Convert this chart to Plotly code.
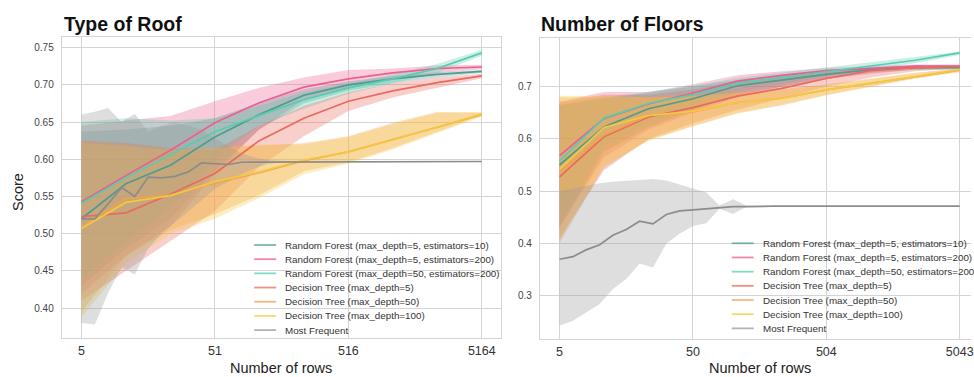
import plotly.graph_objects as go

# ---------------- data ----------------
FRAC_MODEL = [0.001, 0.00215, 0.00464, 0.01, 0.0215, 0.0464, 0.1, 0.215, 0.464, 1.0]
FRAC_FINE = [0.001, 0.00126, 0.00158, 0.002, 0.00251, 0.00316, 0.00398, 0.00501, 0.00631, 0.00794,
             0.01, 0.0126, 0.0158, 0.02, 0.0251, 0.0316, 0.0398, 0.0501, 0.0631, 0.0794,
             0.1, 0.126, 0.158, 0.2, 0.251, 0.316, 0.398, 0.501, 0.631, 0.794, 1.0]

SERIES = ["Random Forest (max_depth=5, estimators=10)",
          "Random Forest (max_depth=5, estimators=200)",
          "Random Forest (max_depth=50, estimators=200)",
          "Decision Tree (max_depth=5)",
          "Decision Tree (max_depth=50)",
          "Decision Tree (max_depth=100)",
          "Most Frequent"]

# Type of Roof (5164 rows)
ROOF_TICKS = ["5", "51", "516", "5164"]
ROOF_MEAN = [
    [0.520, 0.567, 0.592, 0.630, 0.660, 0.686, 0.700, 0.708, 0.714, 0.718],
    [0.543, 0.578, 0.612, 0.649, 0.676, 0.697, 0.708, 0.716, 0.722, 0.724],
    [0.541, 0.575, 0.606, 0.637, 0.659, 0.680, 0.696, 0.708, 0.722, 0.743],
    [0.523, 0.528, 0.553, 0.581, 0.625, 0.655, 0.678, 0.692, 0.703, 0.712],
    [0.509, 0.547, 0.552, 0.568, 0.582, 0.598, 0.610, 0.626, 0.643, 0.660],
    [0.507, 0.542, 0.551, 0.570, 0.583, 0.599, 0.610, 0.626, 0.643, 0.661],
]
ROOF_UP = [
    [0.637, 0.640, 0.645, 0.655, 0.676, 0.694, 0.705, 0.712, 0.717, 0.720],
    [0.645, 0.652, 0.658, 0.678, 0.696, 0.710, 0.720, 0.722, 0.726, 0.727],
    [0.650, 0.655, 0.652, 0.655, 0.672, 0.690, 0.702, 0.714, 0.728, 0.747],
    [0.625, 0.622, 0.615, 0.612, 0.645, 0.672, 0.690, 0.702, 0.710, 0.715],
    [0.627, 0.620, 0.615, 0.617, 0.618, 0.622, 0.631, 0.649, 0.664, 0.662],
    [0.622, 0.618, 0.612, 0.615, 0.620, 0.620, 0.630, 0.647, 0.662, 0.664],
]
ROOF_LO = [
    [0.430, 0.480, 0.520, 0.585, 0.640, 0.675, 0.692, 0.702, 0.710, 0.716],
    [0.420, 0.470, 0.510, 0.580, 0.640, 0.680, 0.695, 0.708, 0.716, 0.721],
    [0.440, 0.490, 0.535, 0.600, 0.645, 0.668, 0.688, 0.702, 0.716, 0.739],
    [0.410, 0.450, 0.490, 0.530, 0.590, 0.631, 0.665, 0.683, 0.696, 0.709],
    [0.395, 0.470, 0.505, 0.526, 0.552, 0.584, 0.596, 0.615, 0.637, 0.659],
    [0.388, 0.460, 0.500, 0.520, 0.548, 0.580, 0.594, 0.613, 0.635, 0.657],
]
ROOF_MF = [0.520, 0.520, 0.540, 0.562, 0.550, 0.576, 0.575, 0.577, 0.583, 0.595,
           0.594, 0.593, 0.596, 0.596, 0.597, 0.597, 0.597, 0.597, 0.597, 0.597,
           0.597, 0.597, 0.597, 0.597, 0.597, 0.597, 0.597, 0.597, 0.597, 0.597, 0.597]
ROOF_MF_UP = [0.660, 0.664, 0.669, 0.650, 0.661, 0.637, 0.645, 0.650, 0.645, 0.640,
              0.628, 0.618, 0.608, 0.602, 0.599, 0.598, 0.597, 0.597, 0.597, 0.597,
              0.597, 0.597, 0.597, 0.597, 0.597, 0.597, 0.597, 0.597, 0.597, 0.597, 0.597]
ROOF_MF_LO = [0.380, 0.378, 0.420, 0.455, 0.445, 0.480, 0.500, 0.515, 0.530, 0.545,
              0.560, 0.570, 0.580, 0.588, 0.594, 0.596, 0.597, 0.597, 0.597, 0.597,
              0.597, 0.597, 0.597, 0.597, 0.597, 0.597, 0.597, 0.597, 0.597, 0.597, 0.597]

# Number of Floors (5043 rows)
FLOOR_TICKS = ["5", "50", "504", "5043"]
FLOOR_MEAN = [
    [0.550, 0.623, 0.658, 0.677, 0.702, 0.713, 0.724, 0.733, 0.737, 0.737],
    [0.568, 0.639, 0.667, 0.688, 0.711, 0.722, 0.731, 0.736, 0.740, 0.740],
    [0.558, 0.640, 0.668, 0.685, 0.707, 0.718, 0.729, 0.740, 0.751, 0.765],
    [0.527, 0.604, 0.642, 0.660, 0.682, 0.697, 0.716, 0.731, 0.737, 0.739],
    [0.537, 0.607, 0.645, 0.652, 0.670, 0.678, 0.694, 0.706, 0.719, 0.732],
    [0.542, 0.622, 0.645, 0.653, 0.670, 0.678, 0.694, 0.706, 0.719, 0.733],
]
FLOOR_UP = [
    [0.665, 0.677, 0.688, 0.700, 0.713, 0.722, 0.730, 0.737, 0.741, 0.740],
    [0.672, 0.690, 0.690, 0.705, 0.722, 0.730, 0.736, 0.740, 0.743, 0.743],
    [0.665, 0.680, 0.690, 0.702, 0.717, 0.727, 0.736, 0.746, 0.757, 0.768],
    [0.670, 0.685, 0.685, 0.695, 0.710, 0.718, 0.728, 0.736, 0.741, 0.742],
    [0.680, 0.680, 0.680, 0.684, 0.690, 0.696, 0.705, 0.716, 0.727, 0.735],
    [0.683, 0.683, 0.680, 0.682, 0.688, 0.694, 0.703, 0.714, 0.726, 0.735],
]
FLOOR_LO = [
    [0.430, 0.575, 0.622, 0.655, 0.685, 0.700, 0.715, 0.727, 0.733, 0.733],
    [0.430, 0.565, 0.618, 0.650, 0.680, 0.700, 0.715, 0.725, 0.733, 0.736],
    [0.440, 0.585, 0.630, 0.660, 0.690, 0.705, 0.720, 0.732, 0.745, 0.761],
    [0.410, 0.540, 0.600, 0.630, 0.656, 0.678, 0.700, 0.718, 0.730, 0.735],
    [0.400, 0.545, 0.598, 0.624, 0.649, 0.664, 0.684, 0.700, 0.716, 0.728],
    [0.405, 0.550, 0.596, 0.626, 0.650, 0.666, 0.685, 0.701, 0.717, 0.729],
]
FLOOR_MF = [0.369, 0.374, 0.387, 0.397, 0.415, 0.426, 0.442, 0.437, 0.455, 0.462,
            0.464, 0.466, 0.469, 0.470, 0.470, 0.471, 0.471, 0.471, 0.471, 0.471,
            0.471, 0.471, 0.471, 0.471, 0.471, 0.471, 0.471, 0.471, 0.471, 0.471, 0.471]
FLOOR_MF_UP = [0.500, 0.505, 0.510, 0.515, 0.518, 0.520, 0.522, 0.523, 0.520, 0.512,
               0.505, 0.497, 0.472, 0.484, 0.472, 0.471, 0.471, 0.471, 0.471, 0.471,
               0.471, 0.471, 0.471, 0.471, 0.471, 0.471, 0.471, 0.471, 0.471, 0.471, 0.471]
FLOOR_MF_LO = [0.242, 0.251, 0.267, 0.283, 0.312, 0.331, 0.361, 0.353, 0.399, 0.418,
               0.433, 0.438, 0.466, 0.456, 0.470, 0.471, 0.471, 0.471, 0.471, 0.471,
               0.471, 0.471, 0.471, 0.471, 0.471, 0.471, 0.471, 0.471, 0.471, 0.471, 0.471]

COLORS = [(79, 156, 145), (236, 95, 142), (88, 204, 176), (234, 106, 94),
          (240, 162, 78), (245, 200, 65), (153, 153, 153)]

# ---------------- figure ----------------
W, H = 974, 377
FONT = "Liberation Sans, Arial, sans-serif"


def X(px):
    return px / W


def Y(py):
    return 1 - py / H


def rgba(c, a):
    return "rgba(%d,%d,%d,%.3f)" % (c[0], c[1], c[2], a)


fig = go.Figure()


def add_panel(xa, ya, means, ups, los, mf, mf_up, mf_lo):
    # bands first
    bands = [(FRAC_MODEL, ups[i], los[i], COLORS[i]) for i in range(6)]
    bands.append((FRAC_FINE, mf_up, mf_lo, COLORS[6]))
    for xs, up, lo, c in bands:
        fig.add_trace(go.Scatter(
            x=list(xs) + list(xs)[::-1], y=list(up) + list(lo)[::-1],
            fill="toself", fillcolor=rgba(c, 0.32), line=dict(width=0),
            mode="lines", hoverinfo="skip", showlegend=False, xaxis=xa, yaxis=ya))
    for i in range(6):
        fig.add_trace(go.Scatter(
            x=FRAC_MODEL, y=means[i], mode="lines", name=SERIES[i],
            line=dict(color=rgba(COLORS[i], 1), width=1.7),
            showlegend=False, xaxis=xa, yaxis=ya))
    fig.add_trace(go.Scatter(
        x=FRAC_FINE, y=mf, mode="lines", name=SERIES[6],
        line=dict(color=rgba((140, 140, 140), 1), width=1.7),
        showlegend=False, xaxis=xa, yaxis=ya))


add_panel("x", "y", ROOF_MEAN, ROOF_UP, ROOF_LO, ROOF_MF, ROOF_MF_UP, ROOF_MF_LO)
add_panel("x2", "y2", FLOOR_MEAN, FLOOR_UP, FLOOR_LO, FLOOR_MF, FLOOR_MF_UP, FLOOR_MF_LO)

GRID = "#d4d4d4"
axis_common = dict(showgrid=True, gridcolor=GRID, gridwidth=1, showline=True,
                   linecolor=GRID, linewidth=1.2, zeroline=False, ticks="")

fig.update_layout(
    width=W, height=H, margin=dict(l=0, r=0, t=0, b=0),
    paper_bgcolor="white", plot_bgcolor="white",
    font=dict(family=FONT, color="#333333"),
    showlegend=False,
    xaxis=dict(domain=[X(62), X(503)], type="log", range=[-3.1473, 0.1473],
               tickvals=[0.001, 0.01, 0.1, 1.0], ticktext=ROOF_TICKS,
               tickfont=dict(size=12.5, color="#333333"), mirror=True,
               ticklabelstandoff=1, anchor="y", **axis_common),
    yaxis=dict(domain=[Y(338), Y(37)], range=[0.3598, 0.7643],
               tickvals=[0.40, 0.45, 0.50, 0.55, 0.60, 0.65, 0.70, 0.75], tickformat=".2f",
               tickfont=dict(size=10, color="#444444"), mirror=True,
               ticklabelstandoff=5, anchor="x", **axis_common),
    xaxis2=dict(domain=[X(541.7), 1.0], type="log", range=[-3.1465, 0.0845],
                tickvals=[0.001, 0.01, 0.1, 1.0], ticktext=FLOOR_TICKS,
                tickfont=dict(size=12.5, color="#333333"), mirror=True,
                ticklabeloverflow="allow",
                ticklabelstandoff=1, anchor="y2", **axis_common),
    yaxis2=dict(domain=[Y(339), Y(38)], range=[0.216, 0.7937],
                tickvals=[0.3, 0.4, 0.5, 0.6, 0.7], tickformat=".1f",
                tickfont=dict(size=10, color="#444444"), mirror=False,
                ticklabelstandoff=5, anchor="x2", **axis_common),
)

ann = []
# titles
ann.append(dict(text="<b>Type of Roof</b>", x=X(62), y=Y(24), xanchor="left", yanchor="middle",
                font=dict(size=19.5, color="#111111", family=FONT)))
ann.append(dict(text="<b>Number of Floors</b>", x=X(541), y=Y(24), xanchor="left", yanchor="middle",
                font=dict(size=19.5, color="#111111", family=FONT)))
# axis titles
ann.append(dict(text="Score", x=X(18), y=Y(192), textangle=-90, xanchor="center", yanchor="middle",
                font=dict(size=14.5, color="#222222", family=FONT)))
ann.append(dict(text="Number of rows", x=X(282), y=Y(368), xanchor="center", yanchor="middle",
                font=dict(size=14.5, color="#222222", family=FONT)))
ann.append(dict(text="Number of rows", x=X(762), y=Y(368), xanchor="center", yanchor="middle",
                font=dict(size=14.5, color="#222222", family=FONT)))

shapes = []
# manual legends (compact, like the reference)
for (lx0, lx1, tx, y0) in [(255, 277, 284, 245.0), (734, 756, 763, 243.3)]:
    for i, name in enumerate(SERIES):
        yy = y0 + i * 14.18
        shapes.append(dict(type="line", xref="paper", yref="paper",
                           x0=X(lx0), x1=X(lx1), y0=Y(yy), y1=Y(yy),
                           line=dict(color=rgba(COLORS[i], 0.75), width=1.8)))
        ann.append(dict(text=name, x=X(tx), y=Y(yy), xanchor="left", yanchor="middle",
                        font=dict(size=9.8, color="#333333", family=FONT)))

for a in ann:
    a.setdefault("xref", "paper")
    a.setdefault("yref", "paper")
    a["showarrow"] = False
fig.update_layout(annotations=ann, shapes=shapes)

fig.write_html("out.html")
